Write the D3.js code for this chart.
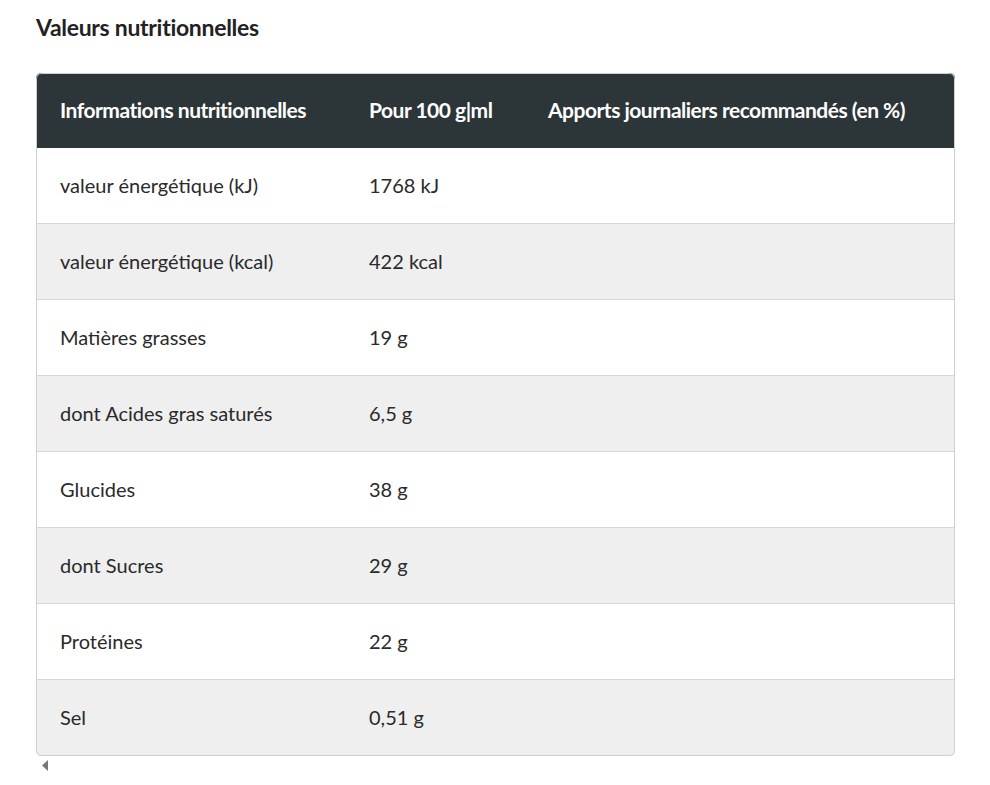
<!DOCTYPE html>
<html><head><meta charset="utf-8">
<script src="https://cdn.jsdelivr.net/npm/d3@7"></script>
<style>body{margin:0;background:#fff;}</style>
</head><body>
<svg id="c" width="990" height="785"></svg>
<script>
const title = "Valeurs nutritionnelles";
const headers = ["Informations nutritionnelles", "Pour 100 g|ml", "Apports journaliers recommandés (en %)"];
const nutrients = ["valeur énergétique (kJ)", "valeur énergétique (kcal)", "Matières grasses", "dont Acides gras saturés", "Glucides", "dont Sucres", "Protéines", "Sel"];
const per100 = ["1768 kJ", "422 kcal", "19 g", "6,5 g", "38 g", "29 g", "22 g", "0,51 g"];
const ajr = ["", "", "", "", "", "", "", ""];

const svg = d3.select("#c");
const font = "Lato, 'Open Sans', sans-serif";
const tLeft = 36, tRight = 955, tTop = 73, headH = 75, rowH = 76;
const colX = [60, 369, 548];
const y = d3.scaleBand().domain(d3.range(nutrients.length)).range([tTop + headH, tTop + headH + rowH * nutrients.length]);

svg.append("text").attr("x", 36).attr("y", 36).attr("font-family", font).attr("font-weight", 700)
  .attr("font-size", 23).attr("fill", "#222").attr("letter-spacing", -0.3).text(title);

const clip = svg.append("defs").append("clipPath").attr("id", "cl");
clip.append("rect").attr("x", tLeft).attr("y", tTop).attr("width", tRight - tLeft).attr("height", headH + rowH * nutrients.length).attr("rx", 5);
const g = svg.append("g").attr("clip-path", "url(#cl)");
g.append("rect").attr("x", tLeft).attr("y", tTop).attr("width", tRight - tLeft).attr("height", headH).attr("fill", "#2c3538");
g.selectAll("text.h").data(headers).join("text").attr("class", "h")
  .attr("x", (d, i) => colX[i]).attr("y", tTop + headH / 2 + 7).attr("font-family", font).attr("font-weight", 700)
  .attr("font-size", 21).attr("fill", "#fff").attr("letter-spacing", -0.5).text(d => d);

const rows = g.selectAll("g.r").data(nutrients.map((n, i) => [n, per100[i], ajr[i]])).join("g").attr("class", "r")
  .attr("transform", (d, i) => `translate(0,${y(i)})`);
rows.append("rect").attr("x", tLeft).attr("width", tRight - tLeft).attr("height", rowH)
  .attr("fill", (d, i) => i % 2 ? "#efefef" : "#fff");
rows.append("line").attr("x1", tLeft).attr("x2", tRight).attr("y1", rowH - 0.5).attr("y2", rowH - 0.5).attr("stroke", "#d6d6d6");
rows.selectAll("text").data(d => d).join("text").attr("x", (d, i) => colX[i]).attr("y", rowH / 2 + 7)
  .attr("font-family", font).attr("font-size", 20).attr("fill", "#2a2a2a").text(d => d);

svg.append("rect").attr("x", tLeft + 0.5).attr("y", tTop + 0.5).attr("width", tRight - tLeft - 1).attr("height", headH + rowH * nutrients.length - 1)
  .attr("rx", 5).attr("fill", "none").attr("stroke", "#cfcfcf");
svg.append("path").attr("d", "M48,760 L42,765.5 L48,771 Z").attr("fill", "#777");
</script>
</body></html>
